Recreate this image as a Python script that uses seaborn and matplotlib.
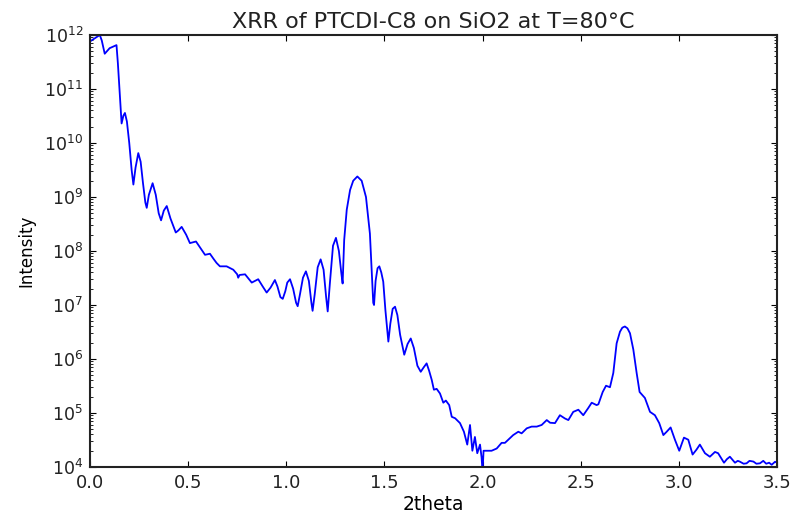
import matplotlib
matplotlib.use("Agg")
import matplotlib.pyplot as plt
import seaborn as sns
import numpy as np
import pandas as pd

twotheta = [
    0.000, 0.025, 0.050, 0.060, 0.075, 0.100, 0.127, 0.135, 0.142, 0.150,
    0.161, 0.170, 0.178, 0.188, 0.200, 0.212, 0.221, 0.232, 0.246, 0.258,
    0.270, 0.282, 0.289, 0.300, 0.319, 0.335, 0.350, 0.362, 0.376, 0.391,
    0.410, 0.437, 0.450, 0.467, 0.490, 0.509, 0.525, 0.540, 0.565, 0.586,
    0.611, 0.630, 0.645, 0.662, 0.696, 0.730, 0.750, 0.755, 0.762, 0.790,
    0.810, 0.824, 0.857, 0.880, 0.900, 0.920, 0.942, 0.955, 0.970, 0.982,
    0.995, 1.005, 1.019, 1.035, 1.050, 1.058, 1.070, 1.085, 1.100, 1.115,
    1.128, 1.134, 1.145, 1.160, 1.175, 1.190, 1.203, 1.211, 1.222, 1.238,
    1.253, 1.268, 1.280, 1.287, 1.295, 1.308, 1.325, 1.341, 1.362, 1.384,
    1.406, 1.426, 1.443, 1.447, 1.455, 1.465, 1.474, 1.484, 1.494, 1.505,
    1.520, 1.530, 1.542, 1.554, 1.566, 1.580, 1.601, 1.618, 1.634, 1.650,
    1.668, 1.685, 1.700, 1.715, 1.728, 1.741, 1.752, 1.766, 1.783, 1.800,
    1.813, 1.830, 1.843, 1.860, 1.885, 1.905, 1.922, 1.936, 1.948, 1.961,
    1.973, 1.987, 1.995, 2.000, 2.005, 2.020, 2.046, 2.072, 2.097, 2.114,
    2.131, 2.156, 2.182, 2.199, 2.225, 2.250, 2.276, 2.301, 2.327, 2.344,
    2.369, 2.394, 2.420, 2.437, 2.462, 2.488, 2.513, 2.538, 2.556, 2.581,
    2.590, 2.612, 2.629, 2.649, 2.666, 2.683, 2.700, 2.712, 2.725, 2.738,
    2.751, 2.768, 2.785, 2.800, 2.827, 2.853, 2.878, 2.900, 2.921, 2.938,
    2.958, 2.980, 3.002, 3.026, 3.048, 3.070, 3.090, 3.107, 3.133, 3.158,
    3.184, 3.200, 3.230, 3.245, 3.260, 3.286, 3.300, 3.310, 3.330, 3.345,
    3.360, 3.380, 3.395, 3.413, 3.430, 3.445, 3.460, 3.473, 3.490, 3.500,
]

intensity = [
    7.6e11, 8.7e11, 1.0e12, 7.9e11, 4.5e11, 5.7e11, 6.3e11, 6.5e11, 3.0e11, 1.0e11,
    2.3e10, 3.2e10, 3.6e10, 2.5e10, 1.0e10, 3.2e9, 1.7e9, 3.5e9, 6.5e9, 4.5e9,
    1.8e9, 7.9e8, 6.3e8, 1.1e9, 1.8e9, 1.1e9, 5.0e8, 3.7e8, 5.6e8, 6.8e8,
    4.0e8, 2.2e8, 2.4e8, 2.8e8, 2.0e8, 1.4e8, 1.45e8, 1.5e8, 1.1e8, 8.5e7,
    8.9e7, 7.1e7, 6.0e7, 5.2e7, 5.2e7, 4.5e7, 3.7e7, 3.2e7, 3.6e7, 3.7e7,
    3.0e7, 2.6e7, 3.0e7, 2.2e7, 1.7e7, 2.1e7, 2.9e7, 2.2e7, 1.4e7, 1.3e7,
    1.8e7, 2.6e7, 3.0e7, 2.0e7, 1.1e7, 9.5e6, 1.6e7, 3.2e7, 4.2e7, 2.8e7,
    1.1e7, 7.8e6, 1.6e7, 5.0e7, 7.0e7, 4.5e7, 1.4e7, 7.6e6, 2.5e7, 1.25e8,
    1.75e8, 1.0e8, 4.0e7, 2.5e7, 1.6e8, 5.8e8, 1.35e9, 2.0e9, 2.4e9, 2.0e9,
    1.0e9, 2.1e8, 1.1e7, 1.0e7, 2.8e7, 4.8e7, 5.2e7, 4.0e7, 2.7e7, 8.0e6,
    2.1e6, 4.5e6, 8.5e6, 9.3e6, 6.5e6, 2.8e6, 1.2e6, 1.9e6, 2.4e6, 1.6e6,
    7.5e5, 5.8e5, 7.0e5, 8.3e5, 6.0e5, 4.1e5, 2.7e5, 2.8e5, 2.3e5, 1.55e5,
    1.7e5, 1.4e5, 8.5e4, 8.0e4, 6.5e4, 4.5e4, 2.6e4, 6.0e4, 2.0e4, 3.6e4,
    1.8e4, 2.6e4, 1.5e4, 8.0e3, 2.0e4, 2.0e4, 2.0e4, 2.2e4, 2.8e4, 2.8e4,
    3.2e4, 3.9e4, 4.5e4, 4.2e4, 5.2e4, 5.6e4, 5.6e4, 6.0e4, 7.4e4, 6.6e4,
    6.5e4, 9.1e4, 7.9e4, 7.4e4, 1.05e5, 1.15e5, 9.1e4, 1.23e5, 1.55e5, 1.4e5,
    1.45e5, 2.45e5, 3.2e5, 3.0e5, 5.5e5, 1.95e6, 3.2e6, 3.8e6, 4.0e6, 3.7e6,
    3.0e6, 1.5e6, 5.5e5, 2.45e5, 1.9e5, 1.05e5, 9.1e4, 6.5e4, 3.9e4, 4.5e4,
    5.4e4, 3.2e4, 2.0e4, 3.5e4, 3.2e4, 1.7e4, 2.1e4, 2.6e4, 1.8e4, 1.55e4,
    1.9e4, 1.8e4, 1.2e4, 1.4e4, 1.55e4, 1.2e4, 1.3e4, 1.26e4, 1.15e4, 1.17e4,
    1.3e4, 1.26e4, 1.15e4, 1.17e4, 1.3e4, 1.15e4, 1.2e4, 1.1e4, 1.25e4, 1.2e4,
]

title_text = "XRR of PTCDI-C8 on SiO2 at T=80°C"
x_label = "2theta"
y_label = "Intensity"

df = pd.DataFrame({"twotheta": twotheta, "intensity": intensity})

plt.rcParams.update({
    "font.family": ["DejaVu Sans"],
    "xtick.direction": "in",
    "ytick.direction": "in",
    "xtick.top": True,
    "ytick.right": True,
    "xtick.major.size": 4,
    "ytick.major.size": 4,
    "ytick.minor.size": 2,
    "xtick.minor.size": 2,
    "axes.linewidth": 1.5,
    "axes.edgecolor": "#222222",
    "text.color": "#222222",
    "xtick.labelcolor": "#222222",
    "ytick.labelcolor": "#222222",
    "mathtext.default": "regular",
})

fig = plt.figure(figsize=(7.93, 5.14), dpi=100)
ax = fig.add_axes([90 / 793, 47 / 514, 687 / 793, 432 / 514])

sns.lineplot(data=df, x="twotheta", y="intensity", ax=ax, color="#0000ff",
             linewidth=1.3, estimator=None, sort=False)

ax.set_yscale("log")
ax.set_xlim(0, 3.5)
ax.set_ylim(1e4, 1e12)
ax.set_xticks([0.0, 0.5, 1.0, 1.5, 2.0, 2.5, 3.0, 3.5])
ax.set_xticklabels(["0.0", "0.5", "1.0", "1.5", "2.0", "2.5", "3.0", "3.5"])
ax.tick_params(axis="x", labelsize=13, pad=5)
ax.tick_params(axis="y", labelsize=12.5, pad=5)
ax.tick_params(axis="y", which="minor", right=True, direction="in")
ax.set_xlabel(x_label, fontsize=13.5, labelpad=2)
ax.set_ylabel(y_label, fontsize=12, labelpad=6)
ax.set_title(title_text, fontsize=16, pad=5)

fig.savefig("out.png", dpi=100)
